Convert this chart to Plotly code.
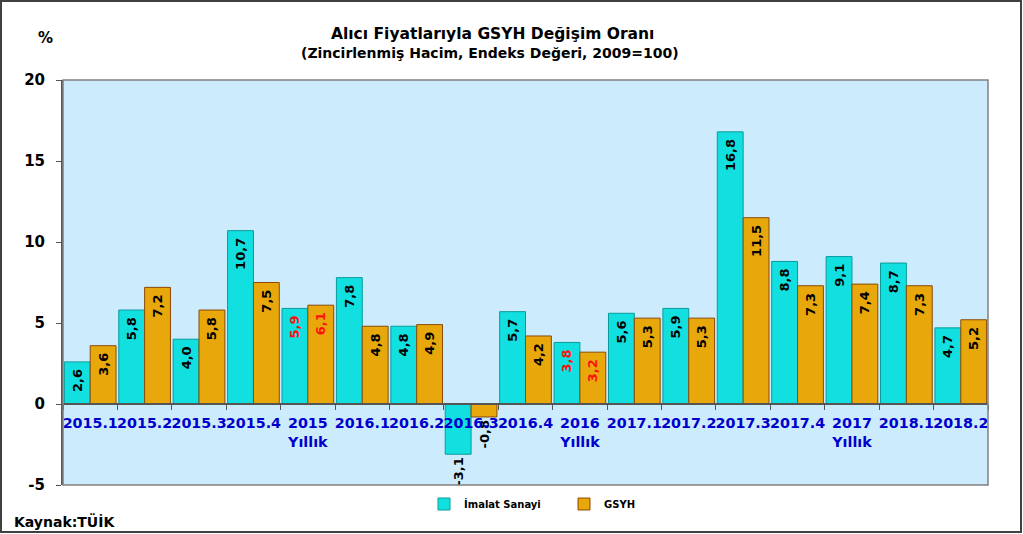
import plotly.graph_objects as go

categories = ["2015.1", "2015.2", "2015.3", "2015.4", "2015<br>Yıllık",
              "2016.1", "2016.2", "2016.3", "2016.4", "2016<br>Yıllık",
              "2017.1", "2017.2", "2017.3", "2017.4", "2017<br>Yıllık",
              "2018.1", "2018.2"]
imalat = [2.6, 5.8, 4.0, 10.7, 5.9, 7.8, 4.8, -3.1, 5.7, 3.8, 5.6, 5.9, 16.8, 8.8, 9.1, 8.7, 4.7]
gsyh = [3.6, 7.2, 5.8, 7.5, 6.1, 4.8, 4.9, -0.8, 4.2, 3.2, 5.3, 5.3, 11.5, 7.3, 7.4, 7.3, 5.2]
red_labels = ["2015<br>Yıllık", "2016<br>Yıllık"]
y_ticks = [-5, 0, 5, 10, 15, 20]

FONT = "DejaVu Sans"


def fmt(v):
    s = "<b>" + f"{v:.1f}".replace(".", ",") + "</b>"
    return s + "\u00a0" if v > 0 else s


def label_colors(vals):
    return ["#FF1010" if c in red_labels else "#000000" for c in categories]


def positions(vals):
    return ["inside" if v > 0 else "outside" for v in vals]


fig = go.Figure()
fig.add_trace(go.Bar(
    x=categories, y=imalat, name="<b>İmalat Sanayi</b>",
    marker=dict(color="#12E0E0", line=dict(color="#0A9A9A", width=1)),
    text=[fmt(v) for v in imalat], textposition=positions(imalat),
    textangle=-90, insidetextanchor="end", constraintext="none",
    textfont=dict(family=FONT, size=13, color=label_colors(imalat)),
    outsidetextfont=dict(family=FONT, size=13, color="#000000"),
    cliponaxis=False,
))
fig.add_trace(go.Bar(
    x=categories, y=gsyh, name="<b>GSYH</b>",
    marker=dict(color="#E8A70A", line=dict(color="#8A4A08", width=1)),
    text=[fmt(v) for v in gsyh], textposition=positions(gsyh),
    textangle=-90, insidetextanchor="end", constraintext="none",
    textfont=dict(family=FONT, size=13, color=label_colors(gsyh)),
    outsidetextfont=dict(family=FONT, size=13, color="#000000"),
    cliponaxis=False,
))

W, H = 1023, 534
ml, mr, mt, mb = 63, 35, 80, 49
pw, ph = W - ml - mr, H - mt - mb


def px(xp):
    return (xp - ml) / pw


def py(yp):
    return (H - mb - yp) / ph


fig.update_layout(
    width=W, height=H,
    margin=dict(l=ml, r=mr, t=mt, b=mb, autoexpand=False),
    paper_bgcolor="white",
    plot_bgcolor="#CCEBFC",
    barmode="group", bargap=0.05, bargroupgap=0.0,
    font=dict(family=FONT, color="#000000"),
    showlegend=True,
    legend=dict(orientation="h", x=px(424), xanchor="left", y=py(504), yanchor="middle",
                font=dict(family=FONT, size=10, color="#000000"),
                bgcolor="rgba(0,0,0,0)", entrywidth=95, itemwidth=30),
    xaxis=dict(
        anchor="free", position=0.2, type="category",
        tickvals=categories, ticktext=["<b>" + c + "</b>" for c in categories],
        tickangle=0, ticklabelstandoff=6,
        showline=True, linecolor="#555555", linewidth=1.5,
        ticks="outside", ticklen=5, tickcolor="#555555", tickson="boundaries",
        tickfont=dict(family=FONT, size=14.3, color="#0000CC"),
        showgrid=False, zeroline=False,
    ),
    yaxis=dict(
        range=[-5, 20], tickvals=y_ticks,
        ticktext=["<b>" + str(t) + "</b>" for t in y_ticks],
        ticklabelstandoff=8,
        showgrid=False, zeroline=False,
        showline=True, linecolor="#555555", linewidth=2,
        ticks="outside", ticklen=5, tickcolor="#555555",
        tickfont=dict(family=FONT, size=15, color="#000000"),
    ),
    shapes=[
        dict(type="rect", xref="paper", yref="paper", x0=0, x1=1, y0=0, y1=1,
             line=dict(color="#808080", width=1.5), layer="above"),
        dict(type="rect", xref="paper", yref="paper",
             x0=px(1), x1=px(1021), y0=py(532), y1=py(1),
             line=dict(color="#404040", width=2)),
    ],
    annotations=[
        dict(text="<b>Alıcı Fiyatlarıyla GSYH Değişim Oranı</b>", xref="paper", yref="paper",
             x=px(492), y=py(34), xanchor="center", yanchor="middle", showarrow=False,
             font=dict(family=FONT, size=15.5, color="#000000")),
        dict(text="<b>(Zincirlenmiş Hacim, Endeks Değeri, 2009=100)</b>", xref="paper", yref="paper",
             x=px(490), y=py(53), xanchor="center", yanchor="middle", showarrow=False,
             font=dict(family=FONT, size=14, color="#000000")),
        dict(text="<b>%</b>", xref="paper", yref="paper",
             x=px(45), y=py(38), xanchor="center", yanchor="middle", showarrow=False,
             font=dict(family=FONT, size=15, color="#000000")),
        dict(text="<b>Kaynak:TÜİK</b>", xref="paper", yref="paper",
             x=px(12), y=py(521), xanchor="left", yanchor="middle", showarrow=False,
             font=dict(family=FONT, size=14, color="#000000")),
    ],
)

fig.write_html("out.html")
